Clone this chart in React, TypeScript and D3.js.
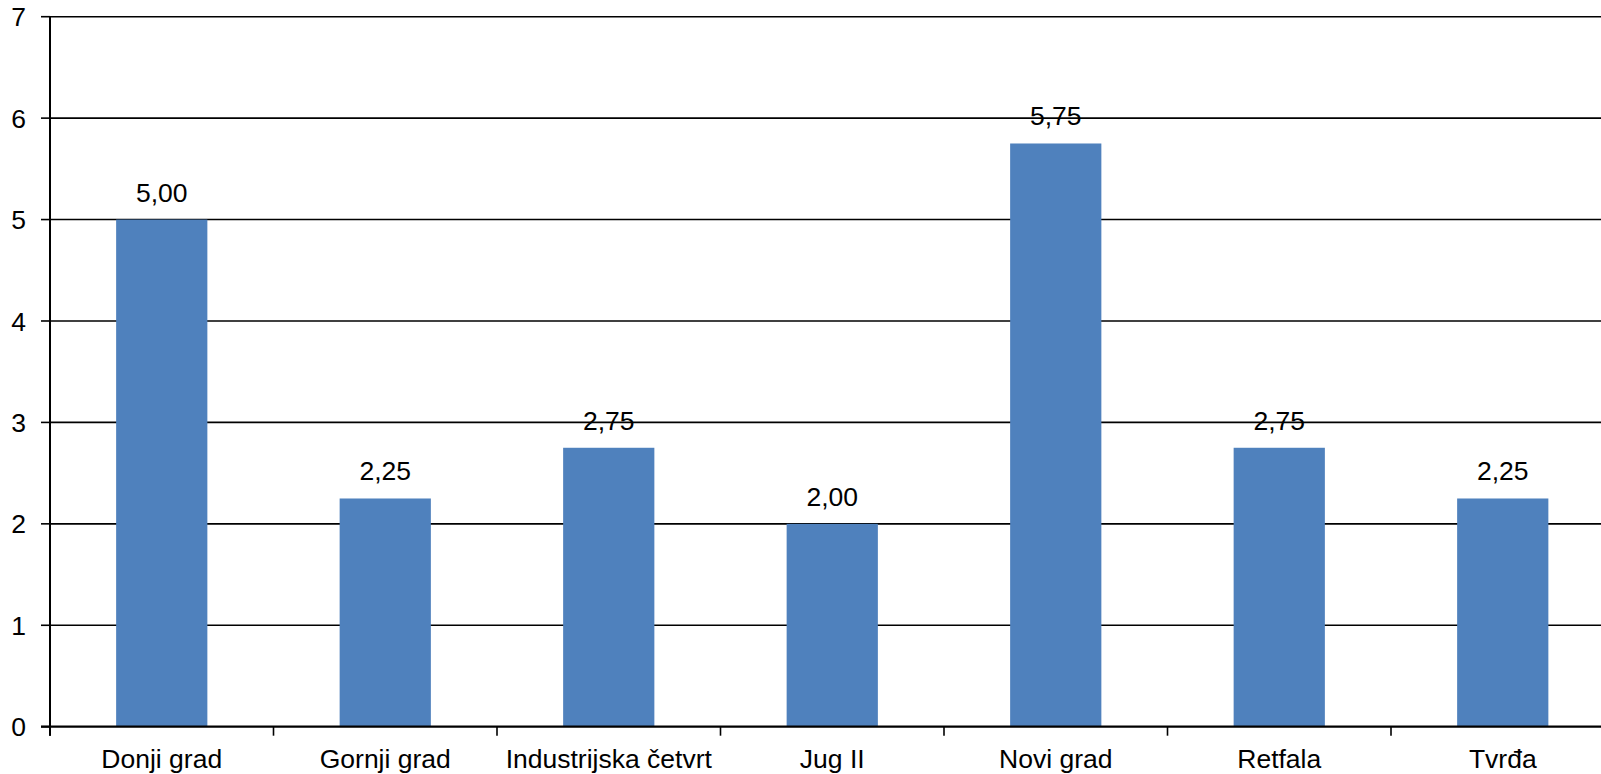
import React from "react";
import * as d3 from "d3";

const categories = ["Donji grad", "Gornji grad", "Industrijska četvrt", "Jug II", "Novi grad", "Retfala", "Tvrđa"];
const values = [5.0, 2.25, 2.75, 2.0, 5.75, 2.75, 2.25];
const yTicks = [0, 1, 2, 3, 4, 5, 6, 7];

const W = 1601;
const H = 774;
const left = 50;
const top = 16.7;
const bottom = 726.7;
const band = 223.5;
const right = left + band * categories.length;
const FONT = "Arial, 'Liberation Sans', sans-serif";
const FS = 26.5;

export default function App() {
  const x = d3.scaleBand<string>().domain(categories).range([left, right]).paddingInner(0).paddingOuter(0);
  const y = d3.scaleLinear().domain([0, 7]).range([bottom, top]);
  const bw = band / 2.45;
  const fmt = (v: number) => v.toFixed(2).replace(".", ",");

  return (
    <svg width={W} height={H} style={{ position: "absolute", left: 0, top: 0, background: "#fff" }}>
      {yTicks.map((t) => (
        <g key={t}>
          {t > 0 && <line x1={left} x2={W} y1={y(t)} y2={y(t)} stroke="#000" strokeWidth={1.6} />}
          <line x1={41} x2={left} y1={y(t)} y2={y(t)} stroke="#000" strokeWidth={1.6} />
          <text x={26} y={y(t)} dy="0.36em" textAnchor="end" fontFamily={FONT} fontSize={FS} fill="#000">
            {t}
          </text>
        </g>
      ))}
      {categories.map((c, i) => {
        const cx = (x(c) as number) + band / 2;
        return (
          <g key={c}>
            <rect x={cx - bw / 2} y={y(values[i])} width={bw} height={bottom - y(values[i])} fill="#4F81BD" />
            <text x={cx} y={y(values[i]) - 18} textAnchor="middle" fontFamily={FONT} fontSize={FS} fill="#000">
              {fmt(values[i])}
            </text>
            <text x={cx} y={767.5} textAnchor="middle" fontFamily={FONT} fontSize={FS} fill="#000">
              {c}
            </text>
          </g>
        );
      })}
      {categories.map((c, i) => (
        <line key={"t" + i} x1={x(c) as number} x2={x(c) as number} y1={bottom} y2={bottom + 9} stroke="#000" strokeWidth={1.6} />
      ))}
      <line x1={left} x2={left} y1={top} y2={bottom + 9} stroke="#000" strokeWidth={2} />
      <line x1={41} x2={W} y1={bottom} y2={bottom} stroke="#000" strokeWidth={2.2} />
    </svg>
  );
}
